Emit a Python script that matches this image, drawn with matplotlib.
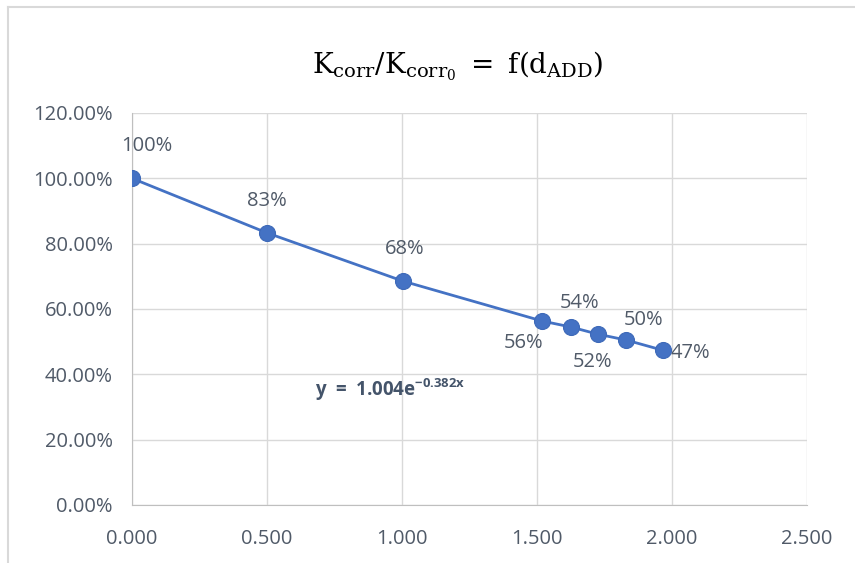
import numpy as np
import matplotlib.pyplot as plt
from matplotlib.lines import Line2D
from matplotlib.ticker import PercentFormatter, FormatStrFormatter

plt.rcParams['font.family'] = ['Open Sans', 'DejaVu Sans']
plt.rcParams['mathtext.fontset'] = 'custom'
plt.rcParams['mathtext.rm'] = 'DejaVu Serif'
plt.rcParams['mathtext.it'] = 'DejaVu Serif:italic'
plt.rcParams['mathtext.bf'] = 'Open Sans:bold'

# data
d_add = [0.0, 0.5, 1.005, 1.52, 1.625, 1.725, 1.83, 1.965]
k_ratio = [1.00, 0.833, 0.685, 0.563, 0.545, 0.523, 0.505, 0.474]
labels = ['100%', '83%', '68%', '56%', '54%', '52%', '50%', '47%']
# label offsets (px) relative to each point
offs = [(15, 32), (0, 32), (1, 32), (-19, -22), (9, 24), (-5, -28), (17, 20), (28, -3)]

x_ticks = np.arange(0, 2.51, 0.5)
y_ticks = np.arange(0, 1.21, 0.2)

grey = '#505A68'
blue = '#4472C4'

fig = plt.figure(figsize=(8.55, 5.63), dpi=100)
ax = fig.add_axes([132/855, 58/563, 675/855, 392/563])

ax.plot(d_add, k_ratio, '-', color=blue, lw=2, zorder=3)
ax.plot(d_add, k_ratio, 'o', color=blue, ms=11.5, mec='#3D69B8', mew=0.8, zorder=4)

for x, y, t, (dx, dy) in zip(d_add, k_ratio, labels, offs):
    ax.annotate(t, (x, y), xytext=(dx * 0.72, dy * 0.72), textcoords='offset points',
                ha='center', va='center', fontsize=14.5, color=grey)

ax.text(0.678, 0.352, r'$\mathbf{y\ =\ 1.004e^{-0.382x}}$', color='#44546A', fontsize=13.5,
        ha='left', va='center')

ax.set_xlim(0, 2.5)
ax.set_ylim(0, 1.2)
ax.set_xticks(x_ticks)
ax.set_yticks(y_ticks)
ax.xaxis.set_major_formatter(FormatStrFormatter('%.3f'))
ax.yaxis.set_major_formatter(PercentFormatter(1.0, decimals=2))
ax.tick_params(length=0, labelsize=14.5, labelcolor=grey)
ax.tick_params(axis='x', pad=17)
ax.tick_params(axis='y', pad=14)
ax.grid(True, color='#D9D9D9', lw=1)
ax.set_axisbelow(True)
for s in ['top', 'right']:
    ax.spines[s].set_visible(False)
for s in ['left', 'bottom']:
    ax.spines[s].set_color('#BFBFBF')

fig.text(458/855, 1 - 66/563, r'$\mathrm{K_{corr}/K_{corr_0}\ =\ f(d_{ADD})}$',
         ha='center', va='center', fontsize=20, color='black')

# chart border
fig.add_artist(Line2D([8/855, 1], [1 - 7/563] * 2, color='#D9D9D9', lw=1.5))
fig.add_artist(Line2D([8/855] * 2, [0, 1 - 7/563], color='#D9D9D9', lw=1.5))

fig.savefig('out.png', dpi=100)
